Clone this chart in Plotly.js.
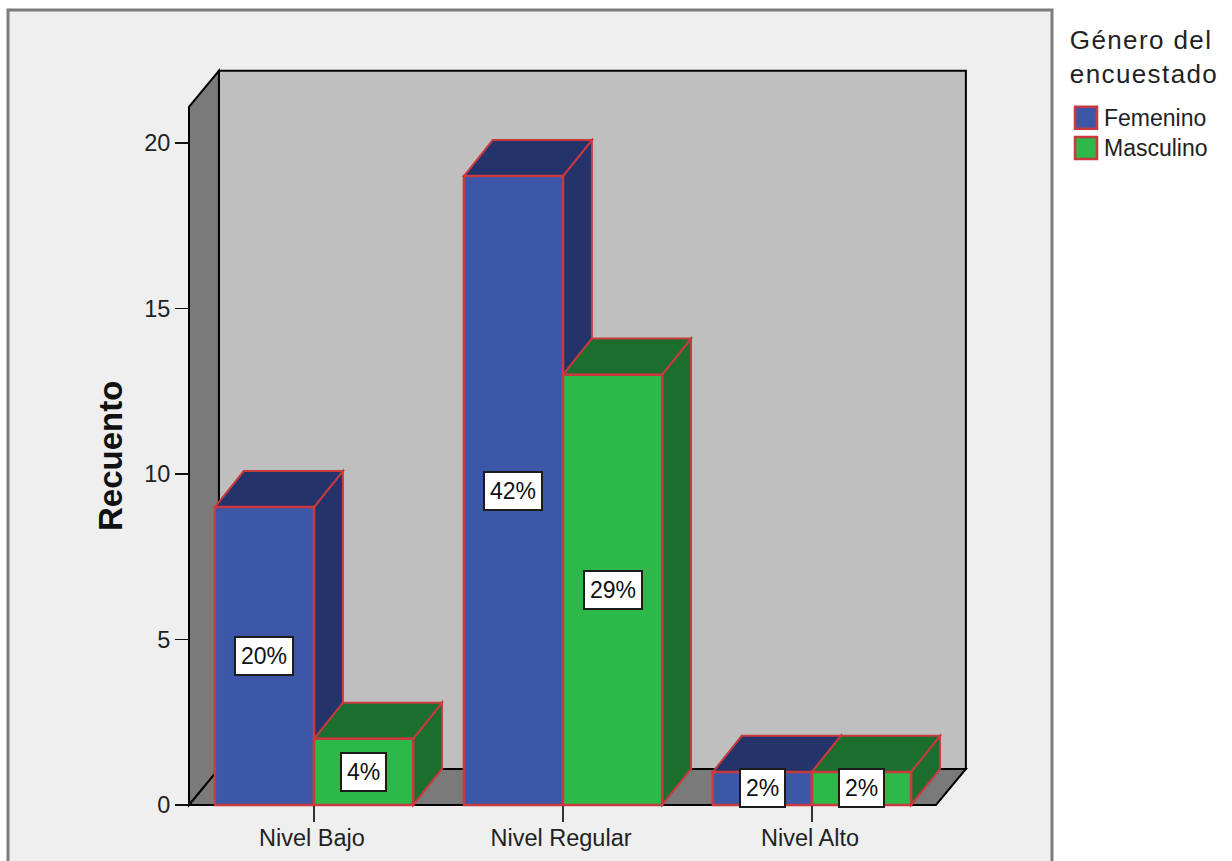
<!DOCTYPE html>
<html>
<head>
<meta charset="utf-8">
<script src="https://cdn.plot.ly/plotly-3.0.1.min.js"></script>
<style>
  html, body { margin: 0; padding: 0; background: #fff; overflow: hidden; }
  #chart { width: 1232px; height: 861px; }
  /* Legend rows are laid out at a tighter pitch than their type size */
  .legend .legendtext { font-size: 23px !important; }
  .legend .legendtitletext { letter-spacing: 1.4px; transform: translate(3px, -15px); }
  .legend .scrollbox { clip-path: none !important; }
</style>
</head>
<body>
<div id="chart"></div>
<script>
// Survey counts by level and gender
const categories = ['Nivel Bajo', 'Nivel Regular', 'Nivel Alto'];
const femenino = [9, 19, 1];
const masculino = [2, 13, 1];
const femeninoPct = ['20%', '42%', '2%'];
const masculinoPct = ['4%', '29%', '2%'];
const yTicks = [0, 5, 10, 15, 20];

// Pixel frame of the plot
const W = 1232, H = 861;
const catPx = 249, unitPx = 33.1, cat0Px = 314, zeroPx = 805;
const plotL = 183, plotR = 972, plotT = 65, plotB = 809;

// Pseudo-3D extrusion, in axis units
const barW = 0.398;
const dx = 0.12, dy = 1.09, barDx = 0.116;
const floorL = -0.502, floorR = 2.498, wallTop = 21.09;

const pathOf = pts => 'M' + pts.map(p => p[0] + ',' + p[1]).join('L') + 'Z';
const face = (pts, fill, lineColor, lineW) => ({
  type: 'path', xref: 'x', yref: 'y', layer: 'below', path: pathOf(pts),
  fillcolor: fill, line: { color: lineColor, width: lineW }
});

const BLUE = '#3d57a8', BLUE_DK = '#25336b';
const GREEN = '#2db84a', GREEN_DK = '#1c6e2f';
const EDGE = '#c9393e';
const SANS = 'Liberation Sans, Arial, sans-serif';

// Top and side faces of one series, painted behind the front-face bars
function extrude(values, start, dark) {
  const out = [];
  values.forEach((v, i) => {
    const a = i + start, b = a + barW;
    out.push(face([[b, 0], [b + barDx, dy], [b + barDx, v + dy], [b, v]], dark, EDGE, 2));
    out.push(face([[a, v], [a + barDx, v + dy], [b + barDx, v + dy], [b, v]], dark, EDGE, 2));
  });
  return out;
}

const frame = {
  type: 'rect', xref: 'paper', yref: 'paper', layer: 'below',
  x0: 8 / W, x1: 1052 / W, y0: -0.02, y1: 1 - 10 / H,
  fillcolor: '#efefef', line: { color: '#7c7c7c', width: 3 }
};

const walls = [
  face([[floorL + dx, dy], [floorR + dx, dy], [floorR + dx, wallTop + dy], [floorL + dx, wallTop + dy]], '#bfbfbf', '#000', 2),
  face([[floorL, 0], [floorL + dx, dy], [floorL + dx, wallTop + dy], [floorL, wallTop]], '#7a7a7a', '#000', 2),
  face([[floorL, 0], [floorR, 0], [floorR + dx, dy], [floorL + dx, dy]], '#7a7a7a', '#000', 2)
];

const barTrace = (name, values, offset, color) => ({
  type: 'bar', name, x: [0, 1, 2], y: values, width: barW, offset,
  marker: { color, line: { color: EDGE, width: 2.5 } },
  cliponaxis: false, hoverinfo: 'skip'
});

const pctLabel = (text, x, v) => ({
  xref: 'x', yref: 'y', x, y: v / 2, text, showarrow: false,
  width: text.length === 3 ? 54 : 41, height: 34, align: 'center',
  bgcolor: '#fff', bordercolor: '#1c1c1c', borderwidth: 2, borderpad: 1,
  font: { family: SANS, size: 23, color: '#111' }
});

const labels = [];
femenino.forEach((v, i) => labels.push(pctLabel(femeninoPct[i], i - barW / 2, v)));
masculino.forEach((v, i) => labels.push(pctLabel(masculinoPct[i], i + barW / 2, v)));

// Vertical measure title
labels.push({
  xref: 'paper', yref: 'paper', x: 110 / W, y: 1 - 456 / H, text: '<b>Recuento</b>',
  xanchor: 'center', yanchor: 'middle', textangle: -90, showarrow: false,
  font: { family: SANS, size: 33, color: '#111' }
});

const tickFont = { family: SANS, size: 23.5, color: '#222' };

Plotly.newPlot('chart', [
  barTrace('Femenino', femenino, -barW, BLUE),
  barTrace('Masculino', masculino, 0, GREEN)
], {
  width: W, height: H,
  margin: { l: 0, r: 0, t: 0, b: 0 },
  paper_bgcolor: '#fff', plot_bgcolor: 'rgba(0,0,0,0)',
  barmode: 'overlay',
  xaxis: {
    domain: [plotL / W, plotR / W],
    range: [(plotL - cat0Px) / catPx, (plotR - cat0Px) / catPx],
    anchor: 'free', position: (H - zeroPx) / H,
    tickvals: [0, 1, 2], ticktext: categories,
    ticks: 'outside', ticklen: 16, tickwidth: 1.5, tickcolor: '#333',
    ticklabelstandoff: -4, ticklabelshift: -2,
    tickfont: tickFont, showgrid: false, zeroline: false, showline: false
  },
  yaxis: {
    domain: [(H - plotB) / H, (H - plotT) / H],
    range: [(zeroPx - plotB) / unitPx, (zeroPx - plotT) / unitPx],
    anchor: 'free', position: 189 / W,
    tickvals: yTicks,
    ticks: 'outside', ticklen: 14, tickwidth: 1.5, tickcolor: '#111',
    tickfont: tickFont, showgrid: false, zeroline: false, showline: false
  },
  shapes: [frame, ...walls, ...extrude(femenino, -barW, BLUE_DK), ...extrude(masculino, 0, GREEN_DK)],
  annotations: labels,
  showlegend: true,
  legend: {
    x: 1064 / W, xanchor: 'left', y: 1 - 30 / H, yanchor: 'top',
    bgcolor: 'rgba(0,0,0,0)', borderwidth: 0,
    font: { family: SANS, size: 21, color: '#222' },
    title: { text: 'Género del<br>encuestado', side: 'top center',
      font: { family: SANS, size: 26, color: '#222' } },
    traceorder: 'normal'
  }
}, { displayModeBar: false, staticPlot: true }).then(gd => {
  // Enlarge the legend swatches beyond the library's fixed 12px square
  gd.querySelectorAll('.legendpoints path').forEach(p => p.setAttribute('d', 'M13,11H-9V-11H13Z'));
});
</script>
</body>
</html>
